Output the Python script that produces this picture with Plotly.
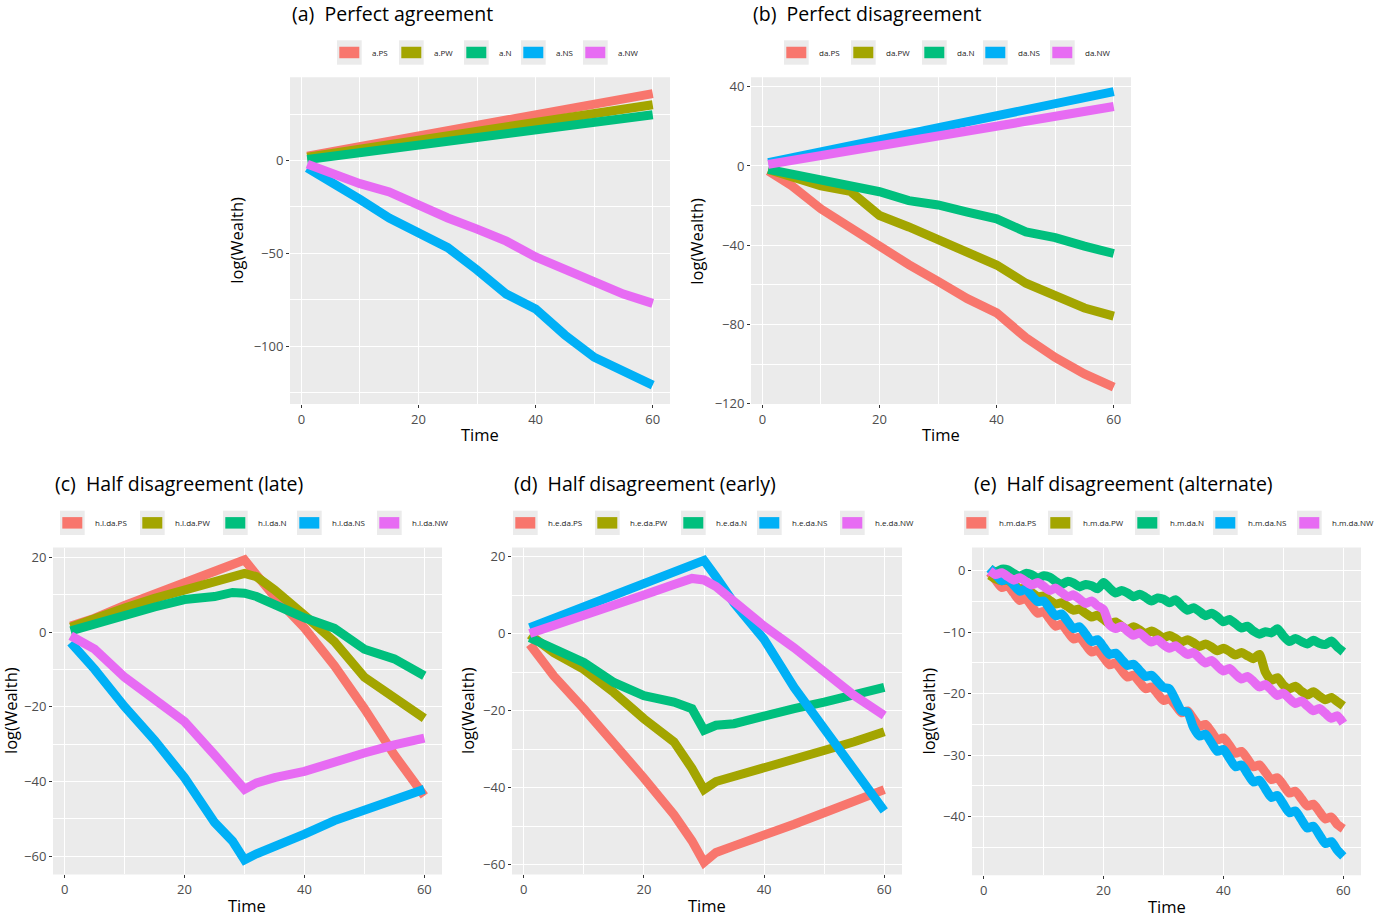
import plotly.graph_objects as go

W, H = 1376, 921

# ggplot default hues for the five strategies
colors = ["#F8766D", "#A3A500", "#00BF7D", "#00B0F6", "#E76BF3"]
suffix = ["PS", "PW", "N", "NS", "NW"]

# (a) / (b) read every 5 months
t_ab = [1, 5, 10, 15, 20, 25, 30, 35, 40, 45, 50, 55, 60]
a_PS = [2.3, 4.6, 7.4, 10.3, 13.1, 16.0, 18.9, 21.7, 24.6, 27.4, 30.3, 33.1, 36.0]
a_PW = [1.8, 3.7, 6.1, 8.5, 10.9, 13.3, 15.7, 18.1, 20.4, 22.8, 25.2, 27.6, 30.0]
a_N = [0.5, 2.1, 4.2, 6.2, 8.3, 10.3, 12.4, 14.4, 16.4, 18.5, 20.5, 22.6, 24.6]
a_NS = [-4, -11, -21, -31, -39.5, -47, -59, -72, -80, -94, -106, -114, -121]
a_NW = [-2, -7, -12.5, -17, -24.5, -31, -37, -43.5, -52, -59, -66, -72, -77]

b_PS = [-2.5, -10, -21.7, -31.4, -40.5, -49.8, -58.3, -67, -74.2, -86.7, -96.7, -105, -111.7]
b_PW = [-1.7, -5.8, -10, -12.8, -25, -30.8, -37.5, -44.2, -50, -59.2, -65, -71.7, -75.8]
b_N = [-1.7, -4.2, -7, -9.7, -13, -17.5, -19.7, -23.3, -26.7, -33.3, -36.2, -40.5, -44.2]
b_NS = [1.7, 4.1, 7.2, 10.2, 13.2, 16.3, 19.3, 22.3, 25.4, 28.4, 31.5, 34.5, 37.5]
b_NW = [0.8, 2.8, 5.3, 7.7, 10.2, 12.7, 15.2, 17.6, 20.1, 22.6, 25.1, 27.5, 30.0]

# (c) / (d) with extra points around the switch at month 30
t_cd = [1, 5, 10, 15, 20, 25, 28, 30, 32, 35, 40, 45, 50, 55, 60]
c_PS = [1.6, 3.7, 7.1, 10.2, 13.5, 16.2, 18, 19.3, 15.3, 9.5, 1.1, -9, -20.5, -32.9, -43.9]
c_PW = [1.3, 3.3, 6.4, 9, 11.3, 13.5, 14.4, 15.7, 14.8, 11.3, 4.5, -2.6, -12.1, -17.8, -23.1]
c_N = [0.3, 2.2, 4.7, 6.7, 8.7, 9.5, 10.6, 10.4, 9.5, 7.3, 3.8, 1.0, -4.6, -7.2, -11.7]
c_NS = [-2.8, -10, -20, -29, -39, -51, -56, -61, -59.4, -57.6, -54.1, -50.5, -47.9, -45.2, -42.1]
c_NW = [-1, -4.6, -12.1, -17.8, -24, -32.9, -39, -42.1, -40.4, -39, -37.3, -34.6, -32.4, -30.2, -28.4]

d_PS = [-2.8, -11, -19.5, -28.1, -37.5, -47, -53.8, -59.4, -56.8, -55.1, -52.5, -49.5, -46.5, -43.5, -40.5]
d_PW = [-0.3, -5, -9.3, -15.3, -22.1, -28.1, -35, -40.5, -38.4, -37.1, -35, -32.4, -30.2, -28.1, -25.5]
d_N = [-1.1, -4.1, -7.5, -12.7, -16.1, -17.8, -19.5, -25.1, -23.8, -23.4, -21.3, -19.5, -17.8, -15.7, -14]
d_NS = [1.5, 3.9, 6.9, 9.9, 13, 16, 17.8, 19, 14.7, 7.9, -1.5, -14, -24.7, -35.2, -46]
d_NW = [0, 2, 4.8, 7.6, 10, 12.7, 14.3, 13.9, 12.2, 8.3, 1.9, -3.7, -9.7, -16.1, -21.3]

# (e) monthly, the alternating pattern shows as a zigzag
t_e = list(range(1, 61))
e_PS = [-0.3, -1.5, -2.7, -2.4, -3.6, -4.8, -4.5, -5.7, -6.9, -6.6,
        -7.8, -9.0, -8.7, -9.9, -11.1, -10.8, -12.0, -13.2, -12.9, -14.1,
        -15.3, -15.0, -16.2, -17.3, -17.0, -18.1, -19.2, -18.9, -20.0, -21.1,
        -20.8, -21.9, -23.1, -22.8, -24.1, -25.3, -25.0, -26.2, -27.5, -27.2,
        -28.4, -29.7, -29.4, -30.6, -31.9, -31.6, -32.8, -34.0, -33.7, -34.9,
        -36.2, -35.9, -37.1, -38.3, -38.0, -39.2, -40.4, -40.1, -41.3, -42.0]
e_PW = [-0.7, -1.3, -1.6, -1.5, -2.2, -2.9, -2.8, -3.5, -4.2, -4.1,
        -4.8, -5.4, -5.2, -5.8, -6.4, -6.2, -6.9, -7.5, -7.2, -7.9,
        -8.6, -8.3, -9.0, -9.6, -9.1, -9.6, -10.2, -9.8, -10.3, -10.9,
        -10.5, -11.0, -11.6, -11.2, -11.7, -12.3, -11.9, -12.4, -13.0, -12.6,
        -13.1, -13.7, -13.3, -13.8, -14.3, -13.6, -16.5, -17.8, -17.4, -18.6,
        -19.2, -18.8, -19.6, -20.2, -19.7, -20.4, -21.0, -20.6, -21.3, -22.0]
e_N = [0.4, -0.2, 0.3, 0.2, -0.4, -0.9, -0.4, -0.6, -1.2, -0.8,
       -1.0, -1.7, -2.2, -1.7, -2.0, -2.6, -2.2, -2.4, -2.9, -1.9,
       -2.8, -3.6, -3.2, -3.6, -4.2, -3.8, -4.3, -4.9, -4.4, -4.6,
       -5.2, -4.7, -5.6, -6.4, -6.0, -6.6, -7.3, -6.9, -7.5, -8.3,
       -7.9, -8.6, -9.3, -9.0, -9.8, -10.3, -9.9, -10.1, -9.4, -10.6,
       -11.5, -11.0, -11.5, -11.9, -11.3, -11.8, -12.0, -11.4, -12.4, -13.2]
e_NS = [0.4, -0.6, -1.6, -1.3, -2.3, -3.3, -3.0, -4.0, -5.0, -4.9,
        -6.1, -7.3, -7.0, -8.2, -9.4, -9.1, -10.3, -11.5, -11.2, -12.4,
        -13.6, -13.4, -14.4, -15.4, -15.2, -16.2, -17.2, -17.0, -18.0, -19.0,
        -19.2, -21.0, -22.8, -23.0, -25.5, -26.9, -26.6, -28.0, -29.4, -29.1,
        -30.5, -31.9, -31.6, -33.0, -34.4, -34.1, -35.5, -36.9, -36.6, -38.0,
        -39.4, -39.1, -40.5, -41.9, -41.6, -43.0, -44.4, -44.1, -45.5, -46.5]
e_NW = [0.0, -0.6, -0.3, -0.9, -1.5, -1.1, -1.7, -2.3, -1.9, -2.5,
        -3.2, -2.8, -3.5, -4.2, -3.9, -4.6, -5.3, -4.9, -5.7, -6.3,
        -8.8, -9.4, -9.0, -9.8, -10.5, -10.1, -10.9, -11.6, -11.2, -12.0,
        -12.6, -12.2, -12.9, -13.6, -13.3, -14.2, -15.0, -14.6, -15.5, -16.3,
        -15.9, -16.8, -17.6, -17.2, -18.0, -18.9, -18.5, -19.4, -20.3, -19.9,
        -20.8, -21.6, -21.2, -22.0, -22.8, -22.4, -23.2, -24.0, -23.6, -24.8]

panels = [
    dict(title="(a)  Perfect agreement", prefix="a.", t=t_ab,
         series=[a_PS, a_PW, a_N, a_NS, a_NW],
         box=(290, 670, 77, 407), yrange=[-131.2, 44.8],
         yticks=[-100, -50, 0], yminor=[-125, -75, -25, 25],
         keys=[337, 399, 464, 521, 583], ytitle_x=237, shape="linear"),
    dict(title="(b)  Perfect disagreement", prefix="da.", t=t_ab,
         series=[b_PS, b_PW, b_N, b_NS, b_NW],
         box=(751, 1131, 77, 407), yrange=[-120.2, 44.8],
         yticks=[-120, -80, -40, 0, 40], yminor=[-100, -60, -20, 20],
         keys=[784, 851, 922, 983, 1050], ytitle_x=697, shape="linear"),
    dict(title="(c)  Half disagreement (late)", prefix="h.l.da.", t=t_cd,
         series=[c_PS, c_PW, c_N, c_NS, c_NW],
         box=(53, 442, 552, 882), yrange=[-64.9, 22.6],
         yticks=[-60, -40, -20, 0, 20], yminor=[-50, -30, -10, 10],
         keys=[60, 140, 223, 297, 377], ytitle_x=11, shape="linear"),
    dict(title="(d)  Half disagreement (early)", prefix="h.e.da.", t=t_cd,
         series=[d_PS, d_PW, d_N, d_NS, d_NW],
         box=(512, 902, 552, 882), yrange=[-62.5, 22.3],
         yticks=[-60, -40, -20, 0, 20], yminor=[-50, -30, -10, 10],
         keys=[513, 595, 681, 757, 840], ytitle_x=468, shape="linear"),
    dict(title="(e)  Half disagreement (alternate)", prefix="h.m.da.", t=t_e,
         series=[e_PS, e_PW, e_N, e_NS, e_NW],
         box=(972, 1361, 552, 883), yrange=[-49.6, 3.8],
         yticks=[-40, -30, -20, -10, 0], yminor=[-45, -35, -25, -15, -5],
         keys=[964, 1048, 1135, 1213, 1297], ytitle_x=928, shape="spline"),
]

def px(x):
    return x / W

def py(y):
    return 1 - y / H

fig = go.Figure()
shapes = []
annotations = []
font = "Open Sans, Noto Sans, sans-serif"

for i, p in enumerate(panels):
    n = "" if i == 0 else str(i + 1)
    x0, x1, y0, y1 = p["box"]
    for k in range(5):
        fig.add_trace(go.Scatter(
            x=p["t"], y=p["series"][k], mode="lines",
            line=dict(color=colors[k], width=9, shape=p["shape"], smoothing=0.6),
            name=p["prefix"] + suffix[k], showlegend=False,
            xaxis="x" + n, yaxis="y" + n))

    axis_common = dict(showgrid=True, gridcolor="white", gridwidth=1.1,
                       zeroline=False, showline=False, ticks="outside",
                       ticklen=3, tickwidth=1.1, tickcolor="#333333",
                       tickfont=dict(family=font, size=13, color="#4D4D4D"))
    fig.layout["xaxis" + n] = dict(
        axis_common, domain=[px(x0), px(x1)], range=[-1.95, 62.95],
        anchor="y" + n, tickvals=[0, 20, 40, 60],
        minor=dict(tickmode="array", tickvals=[10, 30, 50], showgrid=True,
                   gridcolor="white", gridwidth=0.55, ticks=""))
    fig.layout["yaxis" + n] = dict(
        axis_common, domain=[py(y1), py(y0)], range=p["yrange"],
        anchor="x" + n, tickvals=p["yticks"],
        minor=dict(tickmode="array", tickvals=p["yminor"], showgrid=True,
                   gridcolor="white", gridwidth=0.55, ticks=""))

    # panel background
    shapes.append(dict(type="rect", xref="paper", yref="paper", layer="below",
                       x0=px(x0), x1=px(x1), y0=py(y1), y1=py(y0),
                       fillcolor="#EBEBEB", line=dict(width=0)))

    annotations.append(dict(text=p["title"], xref="paper", yref="paper",
                            x=px(x0), y=py(y0 - 64.5), xanchor="left",
                            yanchor="middle", showarrow=False,
                            font=dict(family=font, size=19.5, color="black")))
    annotations.append(dict(text="Time", xref="paper", yref="paper",
                            x=px((x0 + x1) / 2), y=py(y1 + 31), xanchor="center",
                            yanchor="middle", showarrow=False,
                            font=dict(family=font, size=16.5, color="black")))
    annotations.append(dict(text="log(Wealth)", xref="paper", yref="paper",
                            x=px(p["ytitle_x"]), y=py((y0 + y1) / 2),
                            xanchor="center", yanchor="middle", textangle=-90,
                            showarrow=False,
                            font=dict(family=font, size=16.5, color="black")))

    # legend row above the panel
    ky = y0 - 25
    for k in range(5):
        kx = p["keys"][k]
        shapes.append(dict(type="rect", xref="paper", yref="paper",
                           x0=px(kx), x1=px(kx + 24.7), y0=py(ky + 12.3), y1=py(ky - 12.3),
                           fillcolor="#EBEBEB", line=dict(width=0)))
        shapes.append(dict(type="rect", xref="paper", yref="paper",
                           x0=px(kx + 2.3), x1=px(kx + 22.3), y0=py(ky + 5.8), y1=py(ky - 5.8),
                           fillcolor=colors[k], line=dict(width=0)))
        annotations.append(dict(text=p["prefix"] + suffix[k], xref="paper", yref="paper",
                                x=px(kx + 33), y=py(ky), xanchor="left", yanchor="middle",
                                showarrow=False,
                                font=dict(family=font, size=8, color="#1A1A1A")))

fig.update_layout(width=W, height=H, margin=dict(l=0, r=0, t=0, b=0),
                  paper_bgcolor="white", plot_bgcolor="rgba(0,0,0,0)",
                  shapes=shapes, annotations=annotations, showlegend=False)

# drop the default page margin so the figure sits at the window corner
fig.write_html("out.html", config={"displayModeBar": False},
               post_script="document.body.style.margin='0';")
